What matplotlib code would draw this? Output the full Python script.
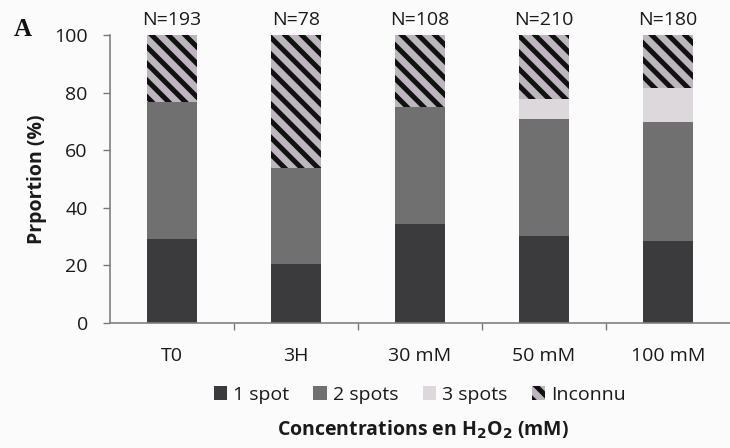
import matplotlib
matplotlib.use("Agg")
import matplotlib.pyplot as plt
import numpy as np

categories = ["T0", "3H", "30 mM", "50 mM", "100 mM"]
counts = [193, 78, 108, 210, 180]
one_spot = [29.1, 20.5, 34.3, 30.2, 28.5]
two_spots = [47.5, 33.4, 40.8, 40.5, 41.2]
three_spots = [0.0, 0.0, 0.0, 7.1, 11.8]
unknown = [23.4, 46.1, 24.9, 22.2, 18.5]

series_labels = ["1 spot", "2 spots", "3 spots", "Inconnu"]

plt.rcParams["font.family"] = ["Open Sans", "DejaVu Sans"]
plt.rcParams["hatch.linewidth"] = 3.6
plt.rcParams["hatch.color"] = "#111111"

FS = 14

fig = plt.figure(figsize=(7.30, 4.48), dpi=100, facecolor="#fbfbfb")
ax = fig.add_axes([0.1507, 0.279, 0.849, 0.643])
ax.set_facecolor("#fbfbfb")

x = np.arange(len(categories))
w = 0.4
bottom = np.zeros(len(categories))
styles = [
    dict(color="#3b3b3d"),
    dict(color="#707070"),
    dict(color="#dcd8dc"),
    dict(facecolor="#beb6bf", hatch="\\\\", edgecolor="#111111", linewidth=0),
]
handles = []
for vals, lab, st in zip([one_spot, two_spots, three_spots, unknown], series_labels, styles):
    b = ax.bar(x, vals, w, bottom=bottom, label=lab, **st)
    handles.append(b)
    bottom = bottom + np.array(vals)

for xi, n, top in zip(x, counts, bottom):
    ax.text(xi, top + 2.0, f"N={n}", ha="center", va="bottom", fontsize=FS,
            color="#1a1a1a")

ax.set_xlim(-0.5, 4.5)
ax.set_ylim(0, 100)
ax.set_yticks([0, 20, 40, 60, 80, 100])
ax.set_xticks(x)
ax.set_xticklabels(categories)
ax.set_xticks(np.arange(0.5, 4.5, 1.0), minor=True)
ax.tick_params(axis="x", which="major", length=0, pad=17, labelsize=FS,
               labelcolor="#1a1a1a")
ax.tick_params(axis="x", which="minor", length=5, width=1, color="#777777")
ax.tick_params(axis="y", length=5, width=1, color="#777777", labelsize=FS,
               labelcolor="#1a1a1a", pad=11)

for s in ["top", "right"]:
    ax.spines[s].set_visible(False)
for s in ["left", "bottom"]:
    ax.spines[s].set_color("#808080")
    ax.spines[s].set_linewidth(1.2)

ax.set_ylabel("Prportion (%)", fontsize=FS, fontweight="bold", color="#1a1a1a",
              labelpad=5)

leg = fig.legend(handles=handles, labels=series_labels, loc="center",
                 bbox_to_anchor=(0.575, 1 - 395 / 448), ncol=4, frameon=False,
                 fontsize=FS, handlelength=0.7, handleheight=0.7,
                 handletextpad=0.3, columnspacing=1.25, borderpad=0)
for t in leg.get_texts():
    t.set_color("#1a1a1a")

fig.text(0.58, 1 - 430 / 448, r"Concentrations en H$_\mathbf{2}$O$_\mathbf{2}$ (mM)",
         ha="center", va="center", fontsize=FS, fontweight="bold", color="#1a1a1a")

fig.text(14 / 730, 1 - 30 / 448, "A", ha="left", va="center", fontsize=18,
         fontweight="bold", family="Liberation Serif", color="#111111")

fig.savefig("out.png", dpi=100, facecolor=fig.get_facecolor())
